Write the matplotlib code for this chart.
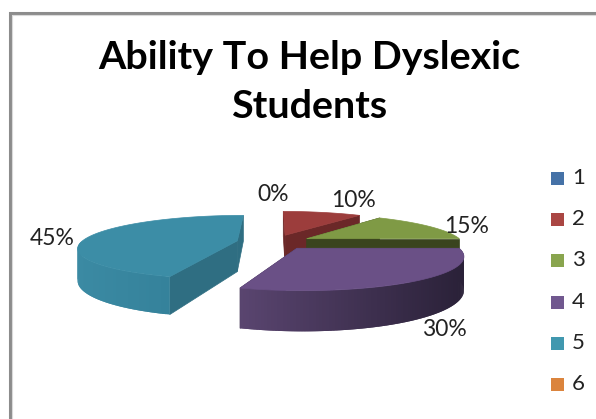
import numpy as np
import matplotlib
matplotlib.use('Agg')
import matplotlib.pyplot as plt
from matplotlib.colors import to_rgb
from matplotlib.patches import Rectangle

# values
series = ['1', '2', '3', '4', '5', '6']
shares = [0, 10, 15, 30, 45, 0]
title = 'Ability To Help Dyslexic\nStudents'

# colours per series
legend_colors = ['#4572A7', '#AA4643', '#89A54E', '#71588F', '#4198AF', '#DB843D']
top_colors = ['#4572A7', '#9C3D3C', '#7F9A45', '#6A5086', '#3C8DA6', '#DB843D']
cut_colors = ['#2E4D72', '#6B2828', '#3A441E', '#3A2C4C', '#2F6E82', '#95592A']
rim_left = ['#2E4D72', '#6B2828', '#3A441E', '#5A4570', '#3B8AA3', '#95592A']
rim_right = ['#2E4D72', '#6B2828', '#3A441E', '#2A2138', '#35829B', '#95592A']

# pie projection settings (pixels)
cx, cy = 274, 242
ax_a, ax_b = 156, 31
persp = 0.2
depth = 31
explode = 0.24


def project(u, v, drop=0.0):
    s = 1 / (1 + persp * v)
    return cx + ax_a * u * s, cy - ax_b * v * s + drop * depth * s


fig = plt.figure(figsize=(5.96, 4.19), dpi=100)
ax = fig.add_axes([0, 0, 1, 1])
ax.set_xlim(0, 596)
ax.set_ylim(419, 0)
ax.axis('off')

# frame of the chart area, cut by the picture edge
ax.plot([10, 10, 596], [419, 13, 13], color='#8C8C8C', lw=2.2, solid_joinstyle='miter')
ax.plot([12, 12, 596], [419, 15, 15], color='#DADADA', lw=0.8)

# angles clockwise from north
edges = np.cumsum([0] + shares) * 3.6
order = [4, 1, 2, 3]  # back to front

for i in order:
    t0, t1 = np.radians(edges[i]), np.radians(edges[i + 1])
    mid = (t0 + t1) / 2
    ou, ov = explode * np.sin(mid), explode * np.cos(mid)
    tt = np.linspace(t0, t1, 120)
    us, vs = ou + np.sin(tt), ov + np.cos(tt)
    xt, yt = project(us, vs)
    xb, yb = project(us, vs, 1)

    # the two cut faces
    ax0, ay0 = project(ou, ov)
    ax1, ay1 = project(ou, ov, 1)
    for j in [0, -1]:
        ax.fill([ax0, xt[j], xb[j], ax1], [ay0, yt[j], yb[j], ay1], color=cut_colors[i], lw=0.5)

    # outer wall, shaded left to right, only the front half shows
    front = np.where(np.cos(tt) < 0)[0]
    if len(front) > 2:
        c0 = np.array(to_rgb(rim_left[i]))
        c1 = np.array(to_rgb(rim_right[i]))
        lo, hi = xt[front].min(), xt[front].max()
        for k in front[:-1]:
            n = min(k + 2, front[-1])
            col = c0 + (c1 - c0) * (xt[k] - lo) / (hi - lo)
            ax.fill([xt[k], xt[n], xb[n], xb[k]], [yt[k], yt[n], yb[n], yb[k]], color=col, lw=0)

    # top face
    ax.fill(np.r_[ax0, xt], np.r_[ay0, yt], color=top_colors[i], lw=0.5)

# data labels
label_pos = {0: (273, 194), 1: (353, 200), 2: (467, 226), 3: (444, 329), 4: (52, 238)}
for i, p in label_pos.items():
    ax.text(p[0], p[1], f'{shares[i]}%', fontsize=16.5, family='Lato', color='#222222',
            ha='center', va='center')

ax.text(309, 82, title, fontsize=28.4, family='Lato', weight='bold', color='black',
        ha='center', va='center', linespacing=1.48)

# legend
for n, (name, col) in enumerate(zip(series, legend_colors)):
    y = 178 + n * 41.2
    ax.add_patch(Rectangle((551, y - 6), 13, 13, color=col, lw=0))
    ax.text(572, y, name, fontsize=16, family='Lato', color='#222222', ha='left', va='center')

fig.savefig('out.png', dpi=100)
